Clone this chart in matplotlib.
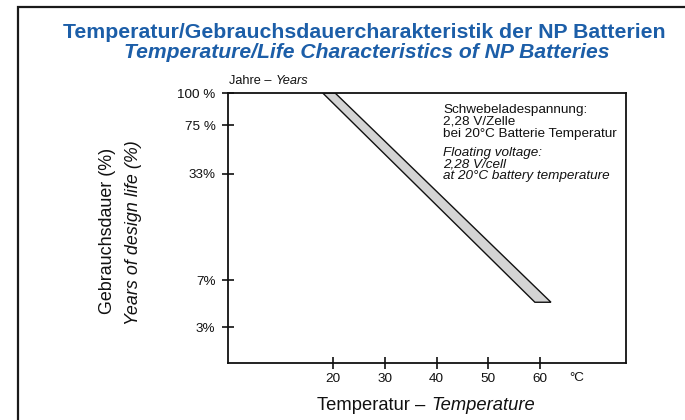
import matplotlib
matplotlib.use("Agg")
import matplotlib.pyplot as plt
from matplotlib.offsetbox import TextArea, HPacker, AnnotationBbox
from matplotlib.patches import Rectangle, Polygon

plt.rcParams['font.family'] = ['Liberation Sans', 'DejaVu Sans']

# x axis: temperature in °C
x_ticks = [20, 30, 40, 50, 60]
x_lim = (-0.3, 76.6)

# y axis: the chart uses an uneven scale, so ticks sit at read-off positions (0..1)
y_tick_pos = [1.0, 0.881, 0.70, 0.307, 0.133]
y_tick_labels = ["100 %", "75 %", "33%", "7%", "3%"]

# life band: cool edge / warm edge temperatures at top and bottom scale positions
band_pos = [1.0, 0.225]
band_temp_cool = [18.0, 59.0]
band_temp_warm = [20.4, 62.1]

blue = "#1c5ea8"
ink = "#111111"

fig = plt.figure(figsize=(6.85, 4.2), dpi=100)
ax = fig.add_axes([228 / 685, 1 - 363 / 420, 398 / 685, 270 / 420])

# outer frame, runs off the right and bottom edge like the scan
fig.patches.append(Rectangle((18 / 685, -0.1), 1.2, 1 - 7 / 420 + 0.1,
                             transform=fig.transFigure, fill=False,
                             edgecolor="#1a1a1a", linewidth=1.6))

# band
pts = list(zip(band_temp_cool, band_pos)) + list(zip(band_temp_warm, band_pos))[::-1]
ax.add_patch(Polygon(pts, closed=True, facecolor="#d4d4d4",
                     edgecolor=ink, linewidth=1.0))

ax.set_xlim(*x_lim)
ax.set_ylim(0, 1)
ax.set_xticks(x_ticks)
ax.set_xticklabels([str(t) for t in x_ticks])
ax.set_yticks(y_tick_pos)
ax.set_yticklabels(y_tick_labels)
ax.tick_params(direction="inout", length=8, width=1.2, labelsize=9.7, colors=ink)
ax.tick_params(axis="y", pad=5)
ax.tick_params(axis="x", pad=3)
for s in ax.spines.values():
    s.set_linewidth(1.3)
    s.set_color(ink)

# °C unit next to the x tick labels
ax.annotate("°C", xy=(67, 0), xycoords=("data", "axes fraction"),
            xytext=(0, -10.5), textcoords="offset points", ha="center",
            va="center", fontsize=9.7, color=ink)

# titles
fig.text(364 / 685, 1 - 32 / 420, "Temperatur/Gebrauchsdauercharakteristik der NP Batterien",
         ha="center", va="center", fontsize=15.3, fontweight="bold", color=blue)
fig.text(367 / 685, 1 - 53 / 420, "Temperature/Life Characteristics of NP Batteries",
         ha="center", va="center", fontsize=15.2, fontweight="bold",
         style="italic", color=blue)


def mixed(parts, xy, box_align, size):
    areas = [TextArea(t, textprops=dict(fontsize=size, color=ink, style=st))
             for t, st in parts]
    pack = HPacker(children=areas, align="baseline", pad=0, sep=size * 0.3)
    ab = AnnotationBbox(pack, xy, xycoords="figure pixels", box_alignment=box_align,
                        frameon=False, pad=0)
    fig.add_artist(ab)


# x label and small "years" caption
mixed([("Temperatur –", "normal"), ("Temperature", "italic")],
      (426, 420 - 405), (0.5, 0.5), 13.2)
mixed([("Jahre –", "normal"), ("Years", "italic")],
      (229, 420 - 81), (0.0, 0.5), 9.2)

# y labels
fig.text(108 / 685, 1 - 231 / 420, "Gebrauchsdauer (%)", rotation=90,
         ha="center", va="center", fontsize=12.9, color=ink)
fig.text(133 / 685, 1 - 233 / 420, "Years of design life (%)", rotation=90,
         ha="center", va="center", fontsize=12.9, style="italic", color=ink)

# float voltage note
fig.text(443 / 685, 1 - 104 / 420,
         "Schwebeladespannung:\n2,28 V/Zelle\nbei 20°C Batterie Temperatur",
         ha="left", va="top", fontsize=9.7, linespacing=0.98, color=ink)
fig.text(443 / 685, 1 - 147 / 420,
         "Floating voltage:\n2,28 V/cell\nat 20°C battery temperature",
         ha="left", va="top", fontsize=9.7, linespacing=0.95, style="italic",
         color=ink)

fig.savefig("out.png", dpi=100)
